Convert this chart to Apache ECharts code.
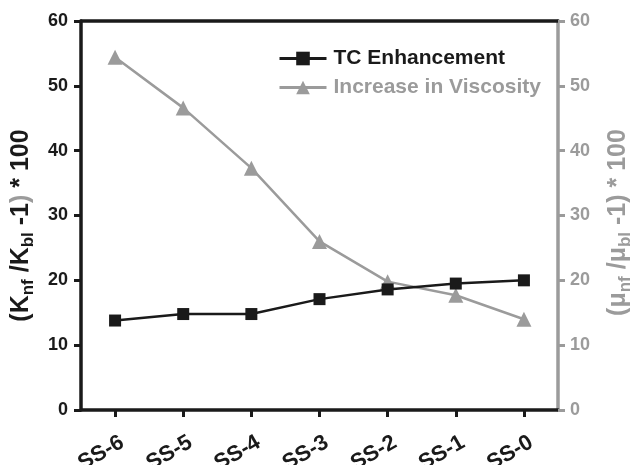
<!DOCTYPE html>
<html>
<head>
<meta charset="utf-8">
<script src="https://cdn.jsdelivr.net/npm/echarts@6/dist/echarts.min.js"></script>
<style>
  html, body { margin: 0; padding: 0; background: #fff; }
  #chart { width: 633px; height: 465px; }
</style>
</head>
<body>
<div id="chart"></div>
<script>
// Samples along the x axis
const categories = ['SS-6', 'SS-5', 'SS-4', 'SS-3', 'SS-2', 'SS-1', 'SS-0'];
// Thermal conductivity enhancement, (K_nf/K_bl - 1) * 100
const tcEnhancement = [13.8, 14.8, 14.8, 17.1, 18.6, 19.5, 20.0];
// Viscosity increase, (mu_nf/mu_bl - 1) * 100
const viscosityIncrease = [54.4, 46.6, 37.3, 26.0, 19.8, 17.7, 14.0];
// Shared tick range for both value axes
const axisMin = 0;
const axisMax = 60;
const axisStep = 10;

const BLACK = '#1a1a1a';
const GRAY = '#9b9b9b';
const FONT = '"Liberation Sans", Arial, sans-serif';

const chart = echarts.init(document.getElementById('chart'), null, { renderer: 'canvas' });

const subStyle = (color) => ({
  fontSize: 17, fontWeight: 'bold', fontFamily: FONT, color: color,
  padding: [14, 0, 0, 0]
});
const mainStyle = (color) => ({
  fontSize: 25, fontWeight: 'bold', fontFamily: FONT, color: color
});

chart.setOption({
  animation: false,
  backgroundColor: '#fff',
  textStyle: { fontFamily: FONT },
  grid: { left: 81, right: 75, top: 21, bottom: 55, containLabel: false, outerBoundsMode: 'none' },
  legend: {
    orient: 'vertical',
    left: 273,
    top: 42,
    itemWidth: 47,
    itemHeight: 17,
    itemGap: 6,
    data: [
      { name: 'TC Enhancement', textStyle: { color: BLACK } },
      { name: 'Increase in Viscosity', textStyle: { color: GRAY } }
    ],
    lineStyle: { width: 3 },
    textStyle: { fontSize: 21, fontWeight: 'bold', fontFamily: FONT, lineHeight: 23, padding: [0, 0, 0, 2] }
  },
  xAxis: [
    {
      type: 'category',
      data: categories,
      boundaryGap: true,
      axisLine: { show: true, lineStyle: { color: BLACK, width: 3.5 } },
      axisTick: { show: true, alignWithLabel: true, length: 7, lineStyle: { color: BLACK, width: 3 } },
      axisLabel: {
        rotate: 30,
        align: 'center',
        verticalAlign: 'middle',
        padding: [0, 32, 0, 0],
        margin: 35,
        fontSize: 22,
        fontWeight: 'bold',
        color: BLACK,
        fontFamily: FONT
      },
      splitLine: { show: false }
    },
    {
      // top border of the plot
      type: 'category',
      data: categories,
      position: 'top',
      axisLine: { show: true, onZero: false, lineStyle: { color: BLACK, width: 3.5 } },
      axisTick: { show: false },
      axisLabel: { show: false },
      splitLine: { show: false }
    }
  ],
  yAxis: [
    {
      type: 'value',
      min: axisMin, max: axisMax, interval: axisStep,
      position: 'left',
      axisLine: { show: true, lineStyle: { color: BLACK, width: 3.5 } },
      axisTick: { show: true, length: 7, lineStyle: { color: BLACK, width: 3 } },
      axisLabel: { fontSize: 18, fontWeight: 'bold', color: BLACK, margin: 13, fontFamily: FONT },
      splitLine: { show: false },
      name: '(K{sub|nf} /K{sub|bl} -1{g|)} * 100',
      nameLocation: 'middle',
      nameRotate: 90,
      nameGap: 43,
      nameTextStyle: {
        fontSize: 25, fontWeight: 'bold', color: BLACK, fontFamily: FONT,
        padding: [0, 20, 0, 0],
        rich: {
          sub: subStyle(BLACK),
          g: mainStyle(GRAY)
        }
      }
    },
    {
      type: 'value',
      min: axisMin, max: axisMax, interval: axisStep,
      position: 'right',
      axisLine: { show: true, lineStyle: { color: GRAY, width: 3.5 } },
      axisTick: { show: true, length: 7, lineStyle: { color: GRAY, width: 3 } },
      axisLabel: { fontSize: 18, fontWeight: 'bold', color: GRAY, margin: 12, fontFamily: FONT },
      splitLine: { show: false },
      name: '(\u03bc{sub|nf} /\u03bc{sub|bl} -1) * 100',
      nameLocation: 'middle',
      nameRotate: 90,
      nameGap: 45,
      nameTextStyle: {
        fontSize: 25, fontWeight: 'bold', color: GRAY, fontFamily: FONT,
        padding: [0, 14, 0, 0],
        rich: {
          sub: subStyle(GRAY)
        }
      }
    }
  ],
  series: [
    {
      name: 'Increase in Viscosity',
      type: 'line',
      yAxisIndex: 1,
      data: viscosityIncrease,
      symbol: 'triangle',
      symbolSize: 15,
      lineStyle: { color: GRAY, width: 2.5 },
      itemStyle: { color: GRAY },
      z: 2
    },
    {
      name: 'TC Enhancement',
      type: 'line',
      yAxisIndex: 0,
      data: tcEnhancement,
      symbol: 'rect',
      symbolSize: 12,
      lineStyle: { color: BLACK, width: 2.5 },
      itemStyle: { color: BLACK },
      z: 3
    }
  ]
});
</script>
</body>
</html>
